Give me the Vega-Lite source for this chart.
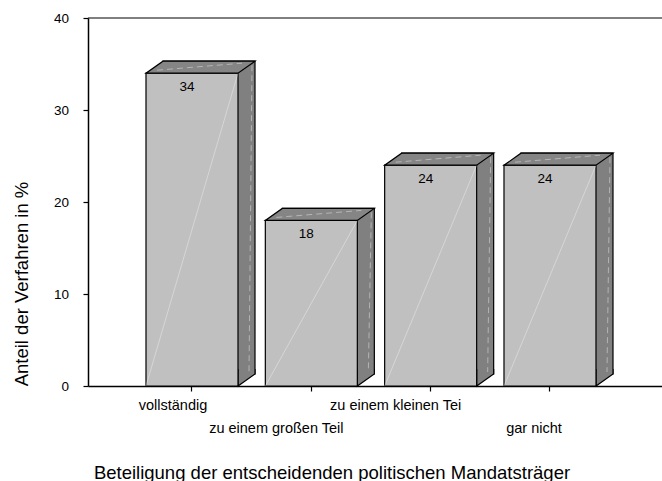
{
  "$schema": "https://vega.github.io/schema/vega-lite/v6.json",
  "width": 574,
  "height": 368,
  "autosize": {"type": "none"},
  "padding": {"left": 88, "top": 18, "right": 0, "bottom": 95},
  "background": "white",
  "data": {
    "values": [
      {"Beteiligung": "vollständig", "Anteil": 34},
      {"Beteiligung": "zu einem großen Teil", "Anteil": 18},
      {"Beteiligung": "zu einem kleinen Tei", "Anteil": 24},
      {"Beteiligung": "gar nicht", "Anteil": 24}
    ]
  },
  "layer": [
    {
      "encoding": {
        "x": {
          "field": "Beteiligung",
          "type": "nominal",
          "sort": null,
          "scale": {"paddingInner": 0.229, "paddingOuter": 0.5196, "align": 0.4677},
          "axis": {
            "title": "Beteiligung der entscheidenden politischen Mandatsträger",
            "labelAngle": 0,
            "labelFontSize": 14.5,
            "labelPadding": 7,
            "labelLineHeight": 23,
            "labelOverlap": false,
            "labelBound": false,
            "labelExpr": "(datum.value == 'zu einem großen Teil' || datum.value == 'gar nicht') ? ['', datum.label] : datum.label",
            "labelOffset": {
              "condition": [
                {"test": "datum.value == 'vollständig'", "value": -19},
                {"test": "datum.value == 'gar nicht'", "value": -16}
              ],
              "value": -35
            },
            "titleFontSize": 18.5,
            "titleX": 243.5,
            "titleY": 92,
            "titleAlign": "center",
            "titleBaseline": "alphabetic"
          }
        },
        "y": {
          "field": "Anteil",
          "type": "quantitative",
          "scale": {"domain": [0, 40], "nice": false},
          "axis": {
            "title": "Anteil der Verfahren in %",
            "values": [0, 10, 20, 30, 40],
            "labelFontSize": 13.5,
            "labelPadding": 14.5,
            "titleFontSize": 18.5,
            "titleX": -61,
            "titleY": 265.5,
            "titleAngle": -90,
            "titleAlign": "center",
            "titleBaseline": "alphabetic"
          }
        }
      },
      "layer": [
        {
          "mark": {"type": "bar", "fill": "#808080", "stroke": "black", "strokeWidth": 1.2, "xOffset": 17, "yOffset": -12, "y2Offset": -12}
        },
        {
          "mark": {"type": "point", "shape": "M 46 -17 L 46 0 L 63 -12 L 63 -17", "size": 4, "filled": true, "fill": "#808080", "stroke": "black", "strokeWidth": 1.2, "opacity": 1},
          "encoding": {"y": {"datum": 0, "type": "quantitative"}}
        },
        {
          "mark": {"type": "rule", "color": "white", "strokeWidth": 1, "opacity": 0.4, "strokeDash": [6, 4], "xOffset": 60, "x2Offset": 57, "yOffset": -8, "y2Offset": -14},
          "encoding": {
            "x2": {"field": "Beteiligung"},
            "y2": {"datum": 0, "type": "quantitative"}
          }
        },
        {
          "mark": {"type": "bar", "fill": "#c0c0c0", "stroke": "black", "strokeWidth": 1.2}
        },
        {
          "mark": {"type": "rule", "color": "white", "strokeWidth": 1, "opacity": 0.35, "xOffset": -46, "x2Offset": 46},
          "encoding": {
            "x2": {"field": "Beteiligung"},
            "y": {"datum": 0, "type": "quantitative"},
            "y2": {"field": "Anteil"}
          }
        },
        {
          "mark": {"type": "point", "shape": "M -46 0 L 46 0 L 63 -12 L -29 -12 Z", "size": 4, "filled": true, "fill": "#858585", "stroke": "black", "strokeWidth": 1.2, "opacity": 1}
        },
        {
          "mark": {"type": "point", "shape": "M -35 -3 L 50 -10", "size": 4, "filled": false, "stroke": "white", "strokeWidth": 1, "strokeDash": [6, 4], "opacity": 0.4}
        },
        {
          "mark": {"type": "text", "dx": -5, "dy": 18, "baseline": "alphabetic", "fontSize": 13.5, "font": "Liberation Sans", "color": "black"},
          "encoding": {"text": {"field": "Anteil", "type": "quantitative"}}
        }
      ]
    },
    {
      "data": {"values": [{}]},
      "mark": {"type": "rule", "color": "black", "strokeWidth": 1.2},
      "encoding": {"y": {"datum": 40, "type": "quantitative"}}
    }
  ],
  "config": {
    "view": {"stroke": null},
    "font": "Liberation Sans",
    "axis": {
      "domainColor": "black",
      "domainWidth": 1.5,
      "tickColor": "black",
      "tickWidth": 1.2,
      "tickSize": 5,
      "labelColor": "black",
      "titleColor": "black",
      "labelFont": "Liberation Sans",
      "titleFont": "Liberation Sans",
      "titleFontWeight": "normal",
      "grid": false
    }
  }
}
